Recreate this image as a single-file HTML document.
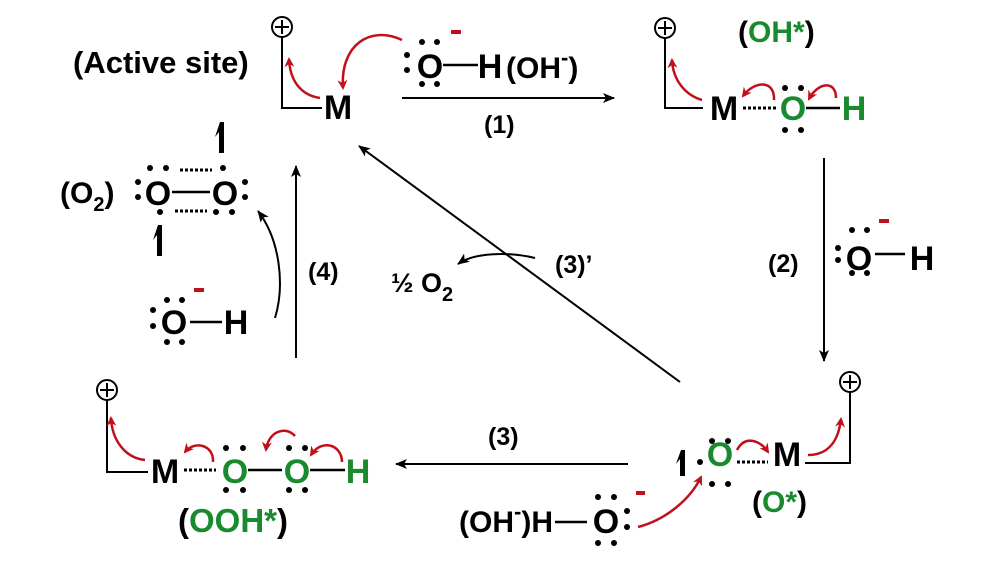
<!DOCTYPE html>
<html><head><meta charset="utf-8"><style>
html,body{margin:0;padding:0;background:#fff;}
svg{display:block;}
text{font-family:"Liberation Sans",Arial,sans-serif;font-weight:bold;}
</style></head><body>
<svg width="1000" height="562" viewBox="0 0 1000 562" xmlns="http://www.w3.org/2000/svg">
<defs>
<marker id="ab" markerWidth="12" markerHeight="10" refX="11" refY="5" orient="auto" markerUnits="userSpaceOnUse"><path d="M0,0 L12,5 L0,10 L3,5 z" fill="#000"/></marker>
<marker id="ar" markerWidth="10" markerHeight="10" refX="8" refY="5" orient="auto" markerUnits="userSpaceOnUse"><path d="M0,0 L10,5 L0,10 L3,5 z" fill="#c0101a"/></marker>
</defs>
<g fill="none" stroke="#000" stroke-width="2">
<circle cx="282" cy="27" r="10"/><path d="M275,27h14M282,20v14"/>
<path d="M282,37V108H322"/>
<circle cx="665" cy="28" r="10"/><path d="M658,28h14M665,21v14"/>
<path d="M665,38V108H703"/>
<circle cx="850" cy="382" r="10"/><path d="M843,382h14M850,375v14"/>
<path d="M850,392V463H805"/>
<circle cx="107" cy="390" r="10"/><path d="M100,390h14M107,383v14"/>
<path d="M107,400V472H148"/>
<path d="M443,65H478M806,108H840M875,254H905M190,322H222M172,192H210M248,470H282M310,470H345M555,522H587" stroke-width="2.5"/>
<path d="M402,98H614" marker-end="url(#ab)"/>
<path d="M824,158V361" marker-end="url(#ab)"/>
<path d="M628,464H396" marker-end="url(#ab)"/>
<path d="M296,358V166" marker-end="url(#ab)"/>
<path d="M680,382L359,146" marker-end="url(#ab)"/>
<path d="M275,318C285,285 280,240 258,211" marker-end="url(#ab)"/>
<path d="M535,258C510,252 475,252 458,264" marker-end="url(#ab)"/>
</g>
<g stroke="#000" stroke-width="3" stroke-dasharray="3,2" fill="none">
<path d="M743,108H776M737,462H768M184,470H216M180,170H212M175,211H207"/>
</g>
<g fill="#000">
<path d="M220,122 L224,122 L224,153 L219,153 L219,132 L215,137 z"/>
<path d="M158,225 L162,225 L162,256 L157,256 L157,235 L153,240 z"/>
<path d="M681,450 L685,450 L685,476 L680,476 L680,459 L676,464 z"/>
</g>
<g fill="#000">
<circle cx="422" cy="42" r="3"/><circle cx="437" cy="42" r="3"/><circle cx="407" cy="55" r="3"/><circle cx="407" cy="70" r="3"/><circle cx="422" cy="84" r="3"/><circle cx="437" cy="84" r="3"/>
<circle cx="785" cy="88" r="3"/><circle cx="801" cy="88" r="3"/><circle cx="785" cy="130" r="3"/><circle cx="801" cy="130" r="3"/>
<circle cx="852" cy="230" r="3"/><circle cx="867" cy="230" r="3"/><circle cx="838" cy="248" r="3"/><circle cx="838" cy="260" r="3"/><circle cx="852" cy="273" r="3"/><circle cx="867" cy="273" r="3"/>
<circle cx="712" cy="441" r="3"/><circle cx="728" cy="441" r="3"/><circle cx="700" cy="462" r="3"/><circle cx="712" cy="484" r="3"/><circle cx="728" cy="484" r="3"/>
<circle cx="598" cy="497" r="3"/><circle cx="614" cy="497" r="3"/><circle cx="627" cy="511" r="3"/><circle cx="627" cy="527" r="3"/><circle cx="598" cy="543" r="3"/><circle cx="614" cy="543" r="3"/>
<circle cx="226" cy="448" r="3"/><circle cx="243" cy="448" r="3"/><circle cx="226" cy="490" r="3"/><circle cx="243" cy="490" r="3"/>
<circle cx="289" cy="448" r="3"/><circle cx="305" cy="448" r="3"/><circle cx="289" cy="490" r="3"/><circle cx="305" cy="490" r="3"/>
<circle cx="153" cy="310" r="3"/><circle cx="153" cy="326" r="3"/><circle cx="167" cy="300" r="3"/><circle cx="182" cy="300" r="3"/><circle cx="167" cy="342" r="3"/><circle cx="182" cy="342" r="3"/>
<circle cx="138" cy="182" r="3"/><circle cx="138" cy="197" r="3"/><circle cx="150" cy="168" r="3"/><circle cx="166" cy="168" r="3"/><circle cx="223" cy="168" r="3"/><circle cx="160" cy="212" r="3"/><circle cx="216" cy="212" r="3"/><circle cx="232" cy="212" r="3"/><circle cx="245" cy="182" r="3"/><circle cx="245" cy="197" r="3"/>
</g>
<g fill="#c0101a">
<rect x="451" y="30" width="10" height="4"/><rect x="879" y="219" width="10" height="4"/><rect x="636" y="491" width="9" height="4"/><rect x="194" y="288" width="10" height="4"/>
</g>
<g fill="none" stroke="#c0101a" stroke-width="2.5">
<path d="M320,98C300,95 290,80 289,59" marker-end="url(#ar)"/>
<path d="M402,40C370,25 340,45 343,88" marker-end="url(#ar)"/>
<path d="M702,100C685,95 673,80 672,60" marker-end="url(#ar)"/>
<path d="M774,100C775,80 755,80 743,96" marker-end="url(#ar)"/>
<path d="M836,98C836,80 818,82 809,99" marker-end="url(#ar)"/>
<path d="M808,455C825,455 838,445 841,419" marker-end="url(#ar)"/>
<path d="M737,450C745,435 760,440 768,452" marker-end="url(#ar)"/>
<path d="M638,527C665,520 690,500 701,477" marker-end="url(#ar)"/>
<path d="M145,460C125,458 112,440 111,418" marker-end="url(#ar)"/>
<path d="M213,462C214,445 195,440 185,452" marker-end="url(#ar)"/>
<path d="M295,436C285,425 268,432 266,450" marker-end="url(#ar)"/>
<path d="M342,462C342,445 322,438 311,455" marker-end="url(#ar)"/>
</g>
<g font-size="34" fill="#000" text-anchor="middle">
<text x="338" y="119">M</text>
<text x="430" y="78">O</text>
<text x="490" y="78">H</text>
<text x="724" y="120">M</text>
<text x="793" y="120" fill="#1a8a2e">O</text>
<text x="854" y="120" fill="#1a8a2e">H</text>
<text x="859" y="270">O</text>
<text x="922" y="270">H</text>
<text x="787" y="466">M</text>
<text x="720" y="466" fill="#1a8a2e">O</text>
<text x="606" y="533">O</text>
<text x="165" y="483">M</text>
<text x="235" y="483" fill="#1a8a2e">O</text>
<text x="297" y="483" fill="#1a8a2e">O</text>
<text x="358" y="483" fill="#1a8a2e">H</text>
<text x="174" y="334">O</text>
<text x="236" y="334">H</text>
<text x="158" y="205">O</text>
<text x="225" y="205">O</text>
</g>
<g font-size="30" fill="#000">
<text x="73" y="73" font-size="31">(Active site)</text>
<text x="506" y="78">(OH<tspan dy="-13" font-size="22">-</tspan><tspan dy="13">)</tspan></text>
<text x="484" y="133" font-size="25">(1)</text>
<text x="738" y="42">(<tspan fill="#1a8a2e">OH*</tspan>)</text>
<text x="768" y="272" font-size="25">(2)</text>
<text x="752" y="512">(<tspan fill="#1a8a2e">O*</tspan>)</text>
<text x="553" y="532" text-anchor="end">(OH<tspan dy="-13" font-size="22">-</tspan><tspan dy="13">)H</tspan></text>
<text x="488" y="445" font-size="25">(3)</text>
<text x="178" y="532" font-size="33">(<tspan fill="#1a8a2e">OOH*</tspan>)</text>
<text x="308" y="280" font-size="25">(4)</text>
<text x="60" y="203">(O<tspan dy="8" font-size="20">2</tspan><tspan dy="-8">)</tspan></text>
<text x="555" y="273" font-size="25">(3)’</text>
<text x="391" y="292" font-size="27">½ O<tspan dy="9" font-size="20">2</tspan></text>
</g>
</svg>
</body></html>
